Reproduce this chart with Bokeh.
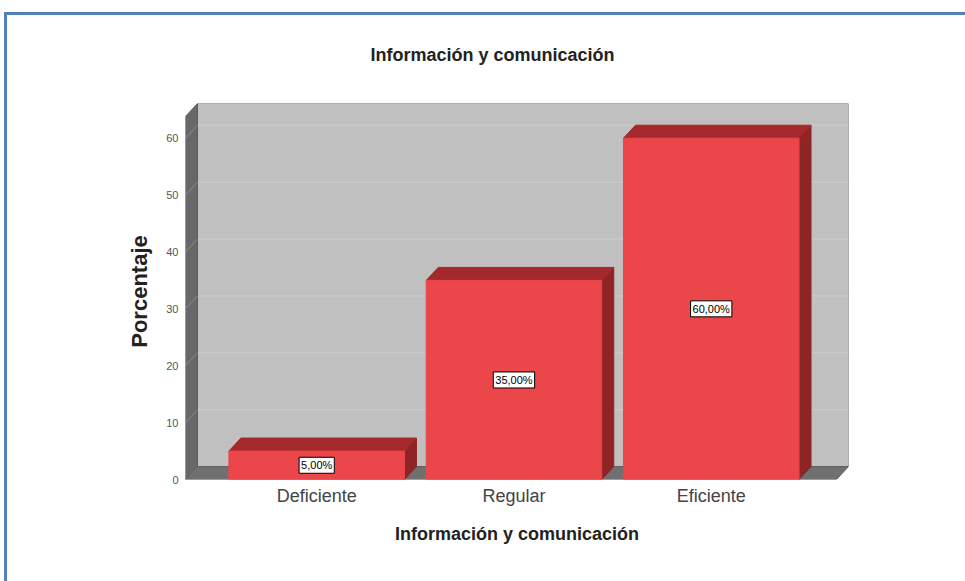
from bokeh.plotting import figure
from bokeh.models import Range1d, FixedTicker, ColumnDataSource
from bokeh.core.properties import value
from bokeh.embed import file_html
from bokeh.resources import INLINE

# ---- data ----
categories = ["Deficiente", "Regular", "Eficiente"]
percentages = [5.0, 35.0, 60.0]
value_labels = ["5,00%", "35,00%", "60,00%"]
y_ticks = [0, 10, 20, 30, 40, 50, 60]
chart_title = "Información y comunicación"
x_title = "Información y comunicación"
y_title = "Porcentaje"

# ---- layout (pixels) ----
W, H = 965, 581
FL, FR, FT, FB = 185, 848, 103, 479    # frame edges
FRONT_R = 836                          # right edge of front plane
X0, X1F = -0.665, 2.635                # front plane in data units
SX = (FRONT_R - FL) / (X1F - X0)
DX = 12 / SX
X1 = X1F + DX
YW = 66.1                              # back wall top in data units
SY = (FB - FT) / YW
DY = 13 / SY
BW = 0.89
FONT = "Liberation Sans"

xs_pos = list(range(len(categories)))

blue = "#4F81BD"
p = figure(width=W, height=H, x_range=Range1d(X0, X1), y_range=Range1d(0, YW),
           output_backend="svg", toolbar_location=None, title=chart_title,
           min_border_left=FL, min_border_right=W - FR,
           min_border_top=FT, min_border_bottom=H - FB,
           styles={"background": f"linear-gradient({blue},{blue}) 4px 12px / 100% 3px no-repeat, "
                                 f"linear-gradient({blue},{blue}) 4px 12px / 3px 100% no-repeat, #ffffff"})
p.background_fill_color = None
p.border_fill_color = None
p.outline_line_color = None
p.xgrid.visible = False
p.ygrid.visible = False

p.title.align = "left"
p.title.offset = 185
p.title.standoff = 78
p.title.text_font = FONT
p.title.text_font_size = "18px"
p.title.text_font_style = "bold"
p.title.text_color = "#222222"

# back wall
p.quad(left=[X0 + DX], right=[X1], bottom=[DY], top=[YW],
       fill_color="#C0C0C0", line_color="#707070", line_width=1)
# grid lines on back wall and left wall
gt = [t for t in y_ticks if t > 0]
p.segment(x0=[X0 + DX] * len(gt), x1=[X1] * len(gt),
          y0=[t + DY for t in gt], y1=[t + DY for t in gt],
          line_color="#CDCDCD", line_width=1)
# left wall
p.patch(x=[X0, X0, X0 + DX, X0 + DX], y=[0, YW - DY, YW, DY],
        fill_color="#686868", line_color="#5a5a5a", line_width=1)
p.segment(x0=[X0] * len(gt), x1=[X0 + DX] * len(gt),
          y0=gt, y1=[t + DY for t in gt], line_color="#8a8a8a", line_width=1)
# floor
p.patch(x=[X0, X1F, X1, X0 + DX], y=[0, 0, DY, DY],
        fill_color="#707070", line_color="#606060", line_width=1)

# bars
side_xs, side_ys, top_xs, top_ys = [], [], [], []
for xc, v in zip(xs_pos, percentages):
    l, r = xc - BW / 2, xc + BW / 2
    side_xs.append([r, r, r + DX, r + DX])
    side_ys.append([0, v, v + DY, DY])
    top_xs.append([l, r, r + DX, l + DX])
    top_ys.append([v, v, v + DY, v + DY])
p.patches(xs=side_xs, ys=side_ys, fill_color="#8E2426", line_color="#8E2426")
p.patches(xs=top_xs, ys=top_ys, fill_color="#A4292C", line_color="#A4292C")
p.vbar(x=xs_pos, top=percentages, bottom=0, width=BW,
       fill_color="#EB464A", line_color="#EB464A")

# value labels
src = ColumnDataSource(dict(x=xs_pos, y=[v / 2 for v in percentages], t=value_labels))
p.text(x="x", y="y", text="t", source=src, text_align="center", text_baseline="middle",
       text_font=value(FONT), text_font_size="11px", text_color="black",
       background_fill_color="white", border_line_color="black", border_line_width=1,
       padding=2)

# axes
p.xaxis.ticker = FixedTicker(ticks=xs_pos)
p.xaxis.major_label_overrides = {i: c for i, c in zip(xs_pos, categories)}
p.xaxis.axis_line_color = None
p.xaxis.major_tick_line_color = None
p.xaxis.major_tick_out = 0
p.xaxis.major_tick_in = 0
p.xaxis.minor_tick_line_color = None
p.xaxis.major_label_standoff = 6
p.xaxis.major_label_text_font = FONT
p.xaxis.major_label_text_font_size = "18px"
p.xaxis.major_label_text_color = "#444444"
p.xaxis.axis_label = x_title
p.xaxis.axis_label_text_font = FONT
p.xaxis.axis_label_text_font_size = "18px"
p.xaxis.axis_label_text_font_style = "bold"
p.xaxis.axis_label_text_color = "#222222"
p.xaxis.axis_label_standoff = 15

p.yaxis.ticker = FixedTicker(ticks=y_ticks)
p.yaxis.axis_line_color = None
p.yaxis.major_tick_line_color = None
p.yaxis.major_tick_out = 0
p.yaxis.major_tick_in = 0
p.yaxis.minor_tick_line_color = None
p.yaxis.major_label_standoff = 7
p.yaxis.major_label_text_font = FONT
p.yaxis.major_label_text_font_size = "11px"
p.yaxis.major_label_text_color = "#555555"
p.yaxis.axis_label = y_title
p.yaxis.axis_label_text_font = FONT
p.yaxis.axis_label_text_font_size = "22px"
p.yaxis.axis_label_text_font_style = "bold"
p.yaxis.axis_label_text_color = "#222222"
p.yaxis.axis_label_standoff = 11

open("out.html", "w").write(file_html(p, INLINE))
